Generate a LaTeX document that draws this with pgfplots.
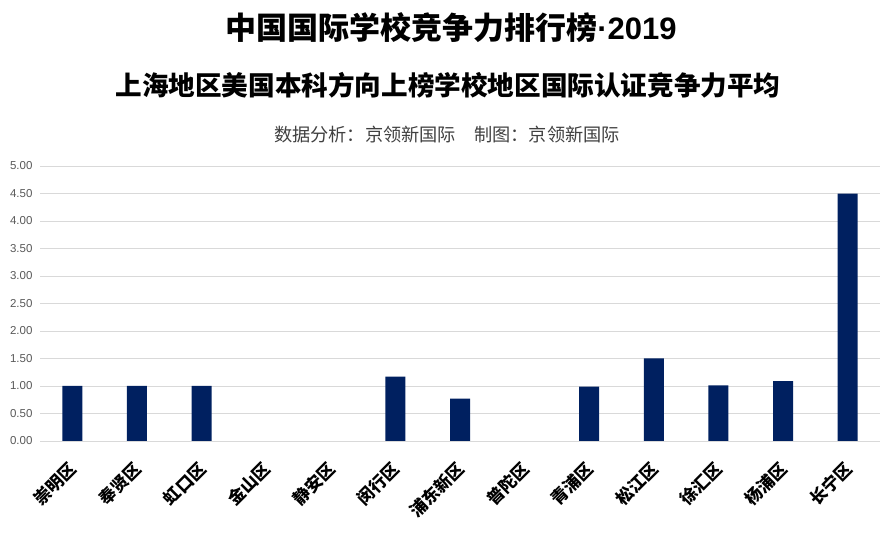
\documentclass[border=0pt]{standalone}
\usepackage{pgfplots}
\pgfplotsset{compat=1.18}
\usepackage{fontspec}
\setmainfont{Liberation Sans}
\newfontfamily\cjk{Noto Sans CJK SC}
\definecolor{barblue}{RGB}{0,32,96}
\definecolor{gridgray}{RGB}{217,217,217}
\definecolor{ticklab}{RGB}{89,89,89}
\definecolor{subgray}{RGB}{64,64,64}
\begin{document}
\begin{tikzpicture}
\useasboundingbox (0,0) rectangle (895pt,538pt);
\node[font=\bfseries\fontsize{31}{33}\selectfont] at (451pt,510pt) {{\cjk\bfseries 中国国际学校竞争力排行榜}·2019};
\node[font=\fontsize{26.6}{28}\selectfont] at (448pt,453pt) {\cjk\bfseries 上海地区美国本科方向上榜学校地区国际认证竞争力平均};
\node[font=\fontsize{18.2}{20}\selectfont, text=subgray] at (447pt,403pt) {\cjk 数据分析：京领新国际\quad 制图：京领新国际};
\begin{axis}[
  at={(40pt,97pt)}, anchor=south west,
  scale only axis, width=840pt, height=275pt,
  xmin=-0.5, xmax=12.5, ymin=0, ymax=5,
  ytick={0,0.5,1,1.5,2,2.5,3,3.5,4,4.5,5},
  yticklabel style={xshift=-4pt, font=\fontsize{11.5}{13}\selectfont, text=ticklab, /pgf/number format/fixed, /pgf/number format/fixed zerofill, /pgf/number format/precision=2},
  /pgf/number format/assume math mode=true,
  ymajorgrids, grid style={draw=gridgray, line width=0.8pt},
  axis line style={draw=none}, major tick length=0pt,
  xtick={0,1,2,3,4,5,6,7,8,9,10,11,12},
  xticklabels={崇明区,奉贤区,虹口区,金山区,静安区,闵行区,浦东新区,普陀区,青浦区,松江区,徐汇区,杨浦区,长宁区},
  xticklabel style={yshift=-25pt, xshift=1pt, rotate=45, anchor=east, inner sep=0pt, font=\cjk\bfseries\fontsize{17}{19}\selectfont},
  ybar, bar width=20pt,
]
% 金山区, 静安区, 普陀区 = 0 (no bar drawn)
\addplot[fill=barblue, draw=none] coordinates {
(0,1.00) (1,1.00) (2,1.00) (5,1.17) (6,0.77) (8,0.99) (9,1.50) (10,1.01) (11,1.09) (12,4.50)};
\end{axis}
\end{tikzpicture}
\end{document}
